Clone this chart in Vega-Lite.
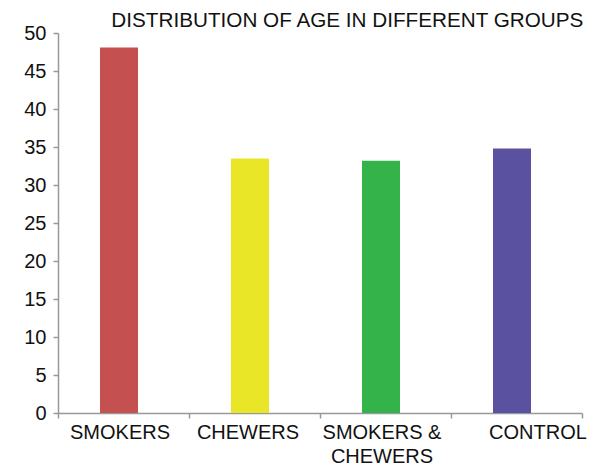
{
  "$schema": "https://vega.github.io/schema/vega-lite/v6.json",
  "width": 524,
  "height": 380,
  "autosize": {"type": "none"},
  "padding": {"left": 58, "top": 33, "right": 12, "bottom": 56},
  "background": "white",
  "title": {
    "text": "DISTRIBUTION OF AGE IN DIFFERENT GROUPS",
    "anchor": "end",
    "font": "Liberation Sans",
    "fontSize": 20.7,
    "fontWeight": "normal",
    "color": "#111111",
    "offset": -9,
    "dx": -3
  },
  "data": {
    "values": [
      {"group": "SMOKERS", "age": 48.1},
      {"group": "CHEWERS", "age": 33.5},
      {"group": "SMOKERS & CHEWERS", "age": 33.2},
      {"group": "CONTROL", "age": 34.8}
    ]
  },
  "mark": {"type": "bar", "xOffset": -4.5, "width": 38},
  "encoding": {
    "x": {
      "field": "group",
      "type": "nominal",
      "sort": null,
      "scale": {"paddingInner": 0, "paddingOuter": 0},
      "axis": {
        "title": null,
        "labelAngle": 0,
        "labelFont": "Liberation Sans",
        "labelFontSize": 20,
        "labelColor": "#111111",
        "labelPadding": 4,
        "labelLineHeight": 24,
        "labelExpr": "datum.label == 'SMOKERS & CHEWERS' ? ['SMOKERS &', 'CHEWERS'] : datum.label",
        "bandPosition": 0,
        "tickBand": "extent",
        "domainColor": "#999999",
        "tickColor": "#999999",
        "tickSize": 5,
        "domainWidth": 1.5,
        "tickWidth": 1.5,
        "labelOffset": {
          "condition": [
            {"test": "datum.value == 'CONTROL'", "value": 21},
            {"test": "datum.value == 'CHEWERS'", "value": -7}
          ],
          "value": -4
        }
      }
    },
    "y": {
      "field": "age",
      "type": "quantitative",
      "scale": {"domain": [0, 50]},
      "axis": {
        "title": null,
        "grid": false,
        "values": [0, 5, 10, 15, 20, 25, 30, 35, 40, 45, 50],
        "labelFont": "Liberation Sans",
        "labelFontSize": 20,
        "labelColor": "#111111",
        "labelPadding": 7,
        "domainColor": "#999999",
        "tickColor": "#999999",
        "tickSize": 5,
        "domainWidth": 1.5,
        "tickWidth": 1.5
      }
    },
    "color": {
      "field": "group",
      "type": "nominal",
      "sort": null,
      "legend": null,
      "scale": {
        "domain": ["SMOKERS", "CHEWERS", "SMOKERS & CHEWERS", "CONTROL"],
        "range": ["#C4514F", "#E9E527", "#33B34A", "#5A52A0"]
      }
    }
  },
  "config": {"view": {"stroke": null}}
}
